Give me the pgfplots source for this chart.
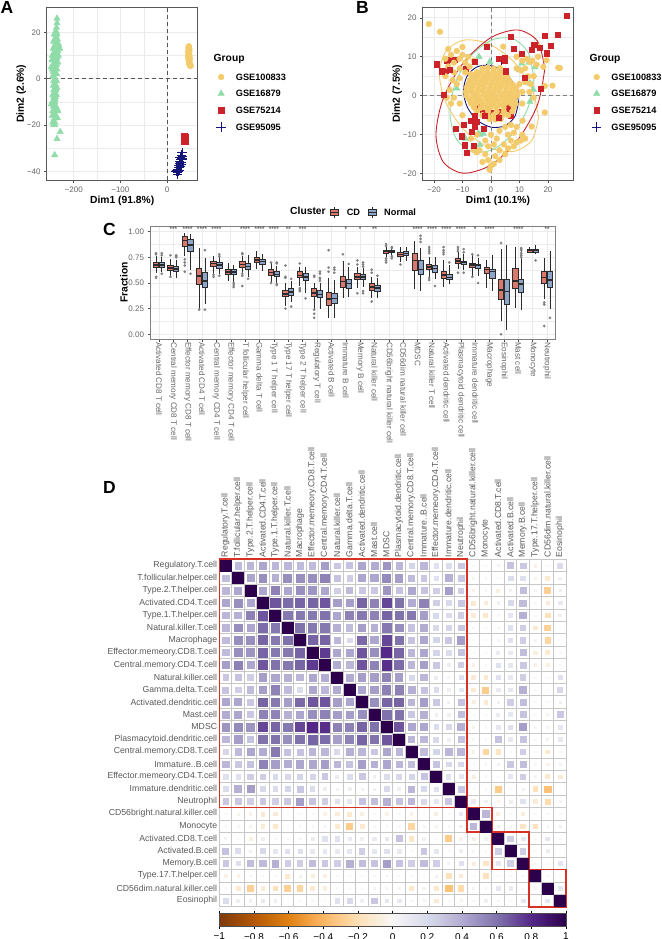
\documentclass[border=0pt]{standalone}
\usepackage{fontspec}
\setmainfont{Liberation Sans}
\usepackage{pgfplots}
\usepackage{pgfplotstable}
\usepgfplotslibrary{statistics}
\pgfplotsset{compat=1.18}
\definecolor{yel}{HTML}{F4CB6C}
\definecolor{grn}{HTML}{8FDCA9}
\definecolor{rdd}{HTML}{CC2229}
\definecolor{nvy}{HTML}{16167A}
\definecolor{gridc}{HTML}{EBEBEB}
\definecolor{tickc}{HTML}{666666}
\definecolor{dk}{HTML}{2B2B2B}
\definecolor{cdc}{HTML}{D9796C}
\definecolor{nrc}{HTML}{8DA5CB}
\definecolor{boxred}{HTML}{D93025}
\newcommand\fs[1]{\fontsize{#1}{#1}\selectfont}
\pgfplotsset{
 gg/.style={scale only axis,
  grid=both,major grid style={gridc,line width=.7pt},minor grid style={gridc,line width=.35pt},
  axis line style={draw=black!65,line width=.9pt},tick style={draw=black!70,line width=.6pt},
  tick align=outside,tick pos=left,major tick length=2.7pt,minor tick length=0pt,
  tick label style={font=\fs{8},text=tickc},
  label style={font=\bfseries\fs{10.3}},
  /pgf/number format/assume math mode=true,
  legend cell align=left,
  legend style={draw=none,fill=none,font=\bfseries\fs{9.2},/tikz/row sep=6pt,/tikz/column sep=8pt,
    nodes={text height=6.6pt,text depth=0pt,inner ysep=2pt}},
 },
 bstyle/.style={solid,draw=dk,line width=.8pt,mark=*,mark size=1.3pt,mark options={solid,draw=black!50,fill=black!50,line width=.1pt},forget plot},
 boxplot/draw direction=y,
 boxplot/box extend=.37,
 boxplot/whisker extend=0,
 boxplot/every median/.style={line width=1.5pt},
 redbox/.style={forget plot,boxred,line width=1.6pt,line join=miter,sharp plot,no marks},
}
\newcommand\bc[7]{\addplot[bstyle,fill=cdc,boxplot prepared={draw position=#1,lower whisker=#2,lower quartile=#3,median=#4,upper quartile=#5,upper whisker=#6}] coordinates {#7};}
\newcommand\bn[7]{\addplot[bstyle,fill=nrc,boxplot prepared={draw position=#1,lower whisker=#2,lower quartile=#3,median=#4,upper quartile=#5,upper whisker=#6}] coordinates {#7};}
\newcommand\st[2]{\node[font=\fs{6.5},text=dk,inner sep=0pt] at (axis cs:#1,1.025) {#2};}
\pgfplotstableread[header=false]{
1 .33 .35 .42 .35 .35 .33 .33 .45 .28 .30 .42 .40 .48 .35 .22 .35 .15 .18 .28 -.02 .01 .03 .30 .28 -.05 .01 .18
.33 1 .42 .5 .38 .5 .5 .5 .55 .3 .25 .42 .42 .52 .45 .33 .28 .15 .38 .28 -.03 -.02 .01 .18 .16 -.05 -.12 .06
.35 .42 1 .42 .55 .42 .5 .48 .42 .25 .33 .28 .28 .48 .3 .42 .3 .25 .45 .25 -.04 -.03 -.07 .05 .32 -.02 -.28 .05
.42 .5 .42 1 .68 .62 .64 .64 .68 .45 .45 .64 .55 .72 .6 .4 .55 .25 .2 .28 -.12 -.1 .06 .2 .33 -.02 -.1 .1
.35 .38 .55 .68 1 .58 .58 .58 .6 .42 .55 .58 .55 .64 .6 .58 .45 .2 .18 .25 -.1 -.13 -.02 .12 .38 -.01 -.18 .06
.35 .5 .42 .62 .58 1 .6 .58 .58 .38 .33 .45 .38 .58 .5 .3 .4 .2 .22 .28 -.02 -.01 .02 .15 .25 -.12 -.28 .01
.33 .5 .5 .64 .58 .6 1 .64 .64 .35 .18 .63 .42 .72 .6 .3 .42 .22 .28 .45 -.01 .01 .02 .15 .25 -.03 -.25 .01
.33 .5 .48 .64 .58 .58 .64 1 .75 .42 .42 .68 .5 .8 .64 .35 .42 .22 .18 .3 .01 .01 .08 .1 .32 -.08 -.12 -.02
.45 .55 .42 .68 .6 .58 .64 .75 1 .4 .35 .68 .55 .78 .62 .35 .45 .28 .07 .25 -.05 .02 .15 .12 .28 -.06 -.08 .01
.28 .3 .25 .45 .42 .38 .35 .42 .4 1 .4 .45 .45 .55 .45 .2 .35 .08 .03 .15 -.1 -.12 .15 .1 .25 .01 .01 .15
.3 .25 .33 .45 .55 .33 .18 .42 .35 .4 1 .42 .45 .55 .55 .38 .3 .18 .06 .12 -.12 -.3 .1 .12 .38 .01 -.01 .2
.42 .42 .28 .64 .58 .45 .63 .68 .68 .45 .42 1 .5 .64 .64 .35 .45 .28 .04 .3 -.07 -.12 .05 .25 .32 .01 -.01 .05
.4 .42 .28 .55 .55 .38 .42 .5 .55 .45 .45 .5 1 .6 .6 .28 .38 .06 .05 .32 -.01 .01 .08 .12 .3 .01 -.03 .28
.48 .52 .48 .72 .64 .58 .72 .8 .78 .55 .55 .64 .6 1 .68 .42 .42 .18 .2 .38 -.05 -.02 .12 .15 .45 -.02 -.03 .12
.35 .45 .3 .6 .6 .5 .6 .64 .62 .45 .55 .64 .6 .68 1 .35 .35 .2 .06 .3 -.02 -.02 .3 .1 .3 .01 -.03 .1
.22 .33 .42 .4 .58 .3 .3 .35 .35 .2 .38 .35 .28 .42 .35 1 .32 .22 .35 .35 -.05 -.25 -.15 .01 .25 .01 -.12 .02
.35 .28 .3 .55 .45 .4 .42 .42 .45 .35 .3 .45 .38 .42 .35 .32 1 .3 .2 .2 -.01 -.03 .04 .28 .32 .01 -.05 .03
.15 .15 .25 .25 .2 .2 .22 .22 .28 .08 .18 .28 .06 .18 .2 .22 .3 1 .15 .12 -.07 -.03 .01 .12 .25 -.03 -.12 -.1
.18 .38 .45 .2 .18 .22 .28 .18 .07 .03 .06 .04 .05 .2 .06 .35 .2 .15 1 .28 .01 -.02 -.3 .01 .04 -.18 -.35 .01
.28 .28 .25 .28 .25 .28 .45 .3 .25 .15 .12 .3 .32 .38 .3 .35 .2 .12 .28 1 .1 .05 -.05 .06 .15 -.1 -.22 -.03
-.02 -.03 -.04 -.12 -.1 -.02 -.01 .01 -.05 -.1 -.12 -.07 -.01 -.05 -.02 -.05 -.01 -.07 .01 .1 1 .35 -.07 -.02 -.08 .01 .02 .02
.01 -.02 -.03 -.1 -.13 -.01 .01 .01 .02 -.12 -.3 -.12 .01 -.02 -.02 -.25 -.03 -.03 -.02 .05 .35 1 .05 -.02 -.15 -.18 .02 .05
.03 .01 -.07 .06 -.02 .02 .02 .08 .15 .15 .1 .05 .08 .12 .3 -.15 .04 .01 -.3 -.05 -.07 .05 1 .25 .12 .01 .12 .02
.3 .18 .05 .2 .12 .15 .15 .1 .12 .1 .12 .25 .12 .15 .1 .01 .28 .12 .01 .06 -.02 -.02 .25 1 .25 .01 .08 .01
.28 .16 .32 .33 .38 .25 .25 .32 .28 .25 .38 .32 .3 .45 .3 .25 .32 .25 .04 .15 -.08 -.15 .12 .25 1 .01 .01 .12
-.05 -.05 -.02 -.02 -.01 -.12 -.03 -.08 -.06 .01 .01 .01 .01 -.02 .01 .01 .01 -.03 -.18 -.1 .01 -.18 .01 .01 .01 1 .01 .01
.01 -.12 -.28 -.1 -.18 -.28 -.25 -.12 -.08 .01 -.01 -.01 -.03 -.03 -.03 -.12 -.05 -.12 -.35 -.22 .02 .02 .12 .08 .01 .01 1 .12
.18 .06 .05 .1 .06 .01 .01 -.02 .01 .15 .2 .05 .28 .12 .1 .02 .03 -.1 .01 -.03 .02 .05 .02 .01 .12 .01 .12 1
}\corr
\begin{document}
\begin{tikzpicture}[x=1pt,y=1pt]
\useasboundingbox (0,0) rectangle (661,939);
% panel letters
\node[font=\bfseries\fs{17.5},anchor=center] at (7,932) {A};
\node[font=\bfseries\fs{17.5},anchor=center] at (362.5,932) {B};
\node[font=\bfseries\fs{17.5},anchor=center] at (109.5,710) {C};
\node[font=\bfseries\fs{17.5},anchor=center] at (109.5,452) {D};
\node[font=\bfseries\fs{10.3},anchor=base west,inner sep=0pt] at (213.5,877) {Group};
\node[font=\bfseries\fs{10.3},anchor=base west,inner sep=0pt] at (589.4,877) {Group};
\node[font=\bfseries\fs{10.3},anchor=base west,inner sep=0pt] at (290,724.5) {Cluster};
% ---------- A
\begin{axis}[gg,at={(46.7pt,931.7pt)},anchor=north west,width=151,height=173,
 xmin=-258,xmax=65.8,ymin=-43.9,ymax=30.8,
 xtick={-200,-100,0},xticklabels={−200,−100,0},
 ytick={-40,-20,0,20},yticklabels={−40,−20,0,20},
 minor x tick num=1,minor y tick num=1,
 xlabel={Dim1 (91.8\%)},ylabel={Dim2 (2.6\%)},
 xlabel style={yshift=3.5pt},ylabel style={yshift=-6pt},
 legend style={at={(1.103,0.64)},anchor=north west}]
\addlegendimage{only marks,mark=*,mark size=2.9pt,yel}\addlegendentry{GSE100833}
\addlegendimage{only marks,mark=triangle*,mark size=3.7pt,grn}\addlegendentry{GSE16879}
\addlegendimage{only marks,mark=square*,mark size=2.6pt,rdd}\addlegendentry{GSE75214}
\addlegendimage{only marks,mark=+,mark size=4.7pt,nvy,line width=.6pt}\addlegendentry{GSE95095}
\addplot[forget plot,only marks,mark=triangle*,mark size=3.7pt,grn,mark options={draw=grn}] coordinates {
(-236,26)(-236,24)(-237,22)(-240,20)(-237,20)(-242,19)(-236,19)(-238,18)(-235,17)(-241,17)(-243,16)(-237,16)(-239,15)(-233,15)(-241,14)(-236,14)(-232,14)(-244,13)(-238,13)(-230,13)(-240,12)(-234,12)(-243,11)(-236,11)(-246,10)(-239,10)(-233,10)(-241,9)(-236,9)(-247,8)(-243,8)(-238,8)(-240,7)(-234,7)(-245,6)(-237,6)(-248,5)(-243,5)(-239,5)(-246,4)(-236,4)(-244,3)(-240,3)(-242,2)(-237,2)(-245,1)(-240,0)(-243,-1)(-237,-1)(-241,-2)(-244,-3)(-238,-3)(-240,-4)(-236,-4)(-243,-5)(-238,-5)(-241,-6)(-245,-7)(-237,-7)(-243,-8)(-239,-8)(-240,-9)(-246,-10)(-241,-10)(-248,-11)(-243,-11)(-244,-12)(-238,-12)(-241,-13)(-236,-13)(-245,-14)(-239,-14)(-234,-14)(-242,-15)(-246,-16)(-238,-16)(-241,-17)(-235,-17)(-243,-18)(-245,-19)(-240,-19)(-243,-20)(-241,-20)(-229,-23)(-236,-26)(-241,-33)};
\addplot[forget plot,only marks,mark=*,mark size=2.9pt,yel,mark options={draw=yel}] coordinates {
(47,14)(46,13.4)(48,13)(46,12.4)(48,12)(45.5,11.5)(47.5,11)(46,10.5)(48,10)(45,9.6)(47,9)(49,8.8)(46,8.2)(48,7.8)(47,7)(49,6.8)(48,6)(50,5.4)(51,5.6)};
\addplot[forget plot,only marks,mark=square*,mark size=2.6pt,rdd,mark options={draw=rdd}] coordinates {
(35,-25)(37,-24.8)(39,-25)(36,-26)(38,-26)(40,-26.2)(37,-27)(39,-27.2)};
\addplot[forget plot,only marks,mark=+,mark size=4.7pt,nvy,line width=.6pt] coordinates {
(32,-32)(31,-33)(33,-33.5)(28,-34)(32,-34.5)(29,-35)(33,-35)(27,-35.5)(30,-36)(27,-36.5)(30,-37)(26,-37.5)(29,-38)(24,-38.5)(27,-38.5)(23,-39)(26,-39.5)(20,-39.8)(24,-40)(22,-40.5)(19,-40.2)(22,-41.5)};
\addplot[forget plot,dk!80,line width=.8pt,dash pattern=on 4pt off 3pt] coordinates {(0,-43.9)(0,30.8)};
\addplot[forget plot,dk!80,line width=.8pt,dash pattern=on 4pt off 3pt] coordinates {(-258,0)(65.8,0)};
\end{axis}
% ---------- B
\begin{axis}[gg,at={(422.7pt,931.7pt)},anchor=north west,width=150.6,height=173,
 xmin=-23.96,xmax=28.9,ymin=-21.7,ymax=22.7,
 xtick={-20,-10,0,10,20},xticklabels={−20,−10,0,10,20},
 ytick={-20,-10,0,10,20},yticklabels={−20,−10,0,10,20},
 minor x tick num=1,minor y tick num=1,
 xlabel={Dim1 (10.1\%)},ylabel={Dim2 (7.5\%)},
 xlabel style={yshift=3.5pt},ylabel style={yshift=-6pt},
 legend style={at={(1.103,0.64)},anchor=north west}]
\addlegendimage{only marks,mark=*,mark size=2.9pt,yel}\addlegendentry{GSE100833}
\addlegendimage{only marks,mark=triangle*,mark size=3.7pt,grn}\addlegendentry{GSE16879}
\addlegendimage{only marks,mark=square*,mark size=2.6pt,rdd}\addlegendentry{GSE75214}
\addlegendimage{only marks,mark=+,mark size=4.7pt,nvy,line width=.6pt}\addlegendentry{GSE95095}
\addplot[forget plot,only marks,mark=triangle*,mark size=3.7pt,grn,mark options={draw=grn}] coordinates {
(-4.2,10)(-.4,8.7)(10.8,8.3)(10.2,6.6)(15.4,7.4)(13.3,8.5)(13.7,-1.5)(-12,1.9)(-3.9,-10)(-2.7,-9.7)(-4.4,-9.7)(-3.9,-12.6)(-5,4.9)(3.2,5.3)(13.7,3.2)(14.9,1.5)(12,4.5)(-9,-11)(-6,-13)};
\addplot[forget plot,only marks,mark=+,mark size=4.7pt,nvy,line width=.6pt] coordinates {
(4.9,.2)(6,-1.3)(-4.4,-2.8)(-.4,.2)(-.4,-5.4)(3.7,9.1)(-1.5,7)(5,-2)(-5,-3)};
\addplot[forget plot,only marks,mark=square*,mark size=2.6pt,rdd,mark options={draw=rdd}] coordinates {
(-12.6,9.3)(-15.6,9.1)(-14.2,9.2)(-4.4,-2.8)(3.2,-4.1)(6.1,-3.2)(.5,-4.5)(-3,-4)(-16,6.5)(-9,7)(-1.5,-3)(7,-5)};
\addplot[forget plot,only marks,mark=*,mark size=2.9pt,yel,mark options={draw=yel}] coordinates {
(-3,7)(-1.1,7.2)(1,6.9)(3.1,7.1)(-5,6)(-3.2,6.2)(-1.2,5.9)(.8,6.1)(2.8,5.9)(4.6,6.1)(-6.5,5)(-4.4,5.1)(-2.4,4.9)(-.4,5.2)(1.6,4.9)(3.6,5.1)(5.6,4.9)(-7.4,4)(-5.4,4.1)(-3.4,3.9)(-1.4,4.2)(.6,3.9)(2.6,4.1)(4.6,4)(6.4,3.9)(-8,3)(-6,3.1)(-4,2.9)(-2,3.2)(0,3)(2,2.9)(4,3.2)(6,3)(7.6,2.9)(-8.6,2)(-6.6,2.1)(-4.6,1.9)(-2.6,2.1)(-.6,2)(1.4,1.9)(3.4,2.2)(5.4,2)(7.4,1.9)(8.8,2.1)(-8.8,1)(-7,1.1)(-5,.9)(-3,1.2)(-1,1)(1,.9)(3,1.1)(5,1)(7,.9)(9,1.1)(-8.6,0)(-6.4,.1)(-4.4,-.1)(-2.4,.2)(-.4,0)(1.6,-.1)(3.6,.1)(5.6,0)(7.6,-.1)(9.2,.1)(-7.6,-1)(-5.6,-.9)(-3.6,-1.1)(-1.6,-.9)(.4,-1)(2.4,-1.1)(4.4,-.9)(6.4,-1)(8.2,-.9)(-7,-2)(-5,-1.9)(-3,-2.1)(-1,-1.9)(1,-2)(3,-2.1)(5,-1.9)(7,-2)(8.6,-2.1)(-6,-3)(-3.6,-3.1)(-2,-3)(0,-2.9)(2,-3.1)(4.4,-3)(8,-3)(-5,-4)(-1,-4)(2,-4.1)(4.5,-4)(7.5,-4)(-3,-5)(-1.2,-5.1)(.8,-5)(4,-5)(6,-5)(-.5,-6)(1.5,-6.1)(3.4,-6)
(-16,9.5)(-15,7.5)(-14,10.5)(-13,8.5)(-13,6)(-12,11.5)(-11,9.5)(-11,7)(-11,4.5)(-10,10.5)(-9,8.5)(-9,6)(-8,10)(-7.5,7.5)(-13.5,4)(-12,3)(-16,5)(-15,12)(-10,12.5)(-7,5.5)(-6,9)(-14.5,1.5)(-13,-.5)(-15.5,-.5)
(-4,-14)(-2,-15)(-1,-16.5)(0,-18)(1,-17.5)(1.5,-15.5)(3,-14)(3,-16.5)(5,-15)(4.5,-12.5)(6,-13.5)(7,-11.5)(8,-13)(9,-12)(10.5,-11.5)(11,-10)(2,-11)(1,-12.5)(-1,-13)(6,-10)(8,-9.5)(3,-9)(5,-8)(7,-7.5)(9,-8)(12,-11)(0,-10)(-2,-11.5)(-5,-14.5)(-3,-17)(-.5,-19)
(12,7)(13,5)(12,3.5)(14,3)(15,5)(13.5,1)(11,1)(15,-.5)(10.5,6.5)(11,9)(9,10)(12.5,9.5)(14.5,9)(16,8)(16.5,10)(10,3)(11,-2)(9,7)(-11,-2)(-10,-5)(-14,-2)(-7,-11)(-5,-10)(-6,-14)
(-21.8,18.4)(-17.9,16.4)(4.3,12.6)(23.6,7.2)(24.2,7.1)(21.6,2.6)(18.9,2.5)(18.9,-4.3)(14.3,-7.9)(11.1,-6.4)(19.5,9.1)(18.4,7.4)(16.6,12.6)(13.7,8.7)};
\addplot[forget plot,only marks,mark=square*,mark size=2.6pt,rdd,mark options={draw=rdd}] coordinates {
(26.5,20.6)(18.9,15.4)(23.3,15.6)(20.9,12.8)(19.5,10.9)(17.2,12.4)(15.2,13.2)(14.2,11.9)(10.9,10.7)(8,12)(6.8,15.1)(-1.5,12.6)(2.6,9.6)(4.9,9.8)(4.9,9.1)(-5.6,8.7)(-19.1,8.1)(-17.2,6.3)(-14.6,6.6)(-16.5,.3)(17.5,1.9)(11.7,4.7)(5.3,6.3)(-12.3,-8.5)(-9.7,-7.5)(-10.2,-10.4)(-9.2,-12.7)(-6.1,-12.9)(-8.5,-14.6)(-7,-6.4)(-5.6,-5.2)(-5,-6.7)(-2.5,-8.4)(-6.8,-9.2)(-5.6,-7.9)(2.6,-5.6)(-2.1,-5.2)};
\addplot[forget plot,smooth,yel,line width=.9pt] coordinates {(16.7,-5.53)(14.37,1.86)(8,8.74)(-.7,13.3)(-9.4,14.28)(-15.77,11.43)(-18.1,5.53)(-15.77,-1.86)(-9.4,-8.74)(-.7,-13.3)(8,-14.28)(14.37,-11.43)(16.7,-5.53)};
\addplot[forget plot,smooth,grn,line width=.9pt] coordinates {(15,4.64)(13.03,11.1)(7.65,14.65)(.3,14.3)(-7.05,10.2)(-12.43,3.4)(-14.4,-4.24)(-12.43,-10.7)(-7.05,-14.25)(.3,-13.9)(7.65,-9.8)(13.03,-3)(15,4.64)};
\addplot[forget plot,smooth,rdd,line width=.9pt] coordinates {(18.9,6.96)(16.34,14)(9.35,16.88)(-.2,14.84)(-9.75,8.41)(-16.74,-.67)(-19.3,-9.96)(-16.74,-17)(-9.75,-19.88)(-.2,-17.84)(9.35,-11.41)(16.34,-2.33)(18.9,6.96)};
\addplot[forget plot,smooth,nvy,line width=.9pt] coordinates {(9.65,-1.6)(8.36,2.55)(4.83,5.98)(0,7.77)(-4.83,7.43)(-8.36,5.07)(-9.65,1.3)(-8.36,-2.85)(-4.83,-6.28)(0,-8.07)(4.83,-7.73)(8.36,-5.37)(9.65,-1.6)};
\addplot[forget plot,dk!60,line width=.9pt,dash pattern=on 4pt off 3pt] coordinates {(0,-21.7)(0,22.7)};
\addplot[forget plot,dk!60,line width=.9pt,dash pattern=on 4pt off 3pt] coordinates {(-23.96,0)(28.9,0)};
\end{axis}
% ---------- C
\begin{axis}[gg,at={(150.3pt,712.7pt)},anchor=north west,width=405.4,height=112.7,
 xmin=.4,xmax=28.6,ymin=-.046,ymax=1.0526,
 xtick={1,...,28},
 xticklabels={Activated CD8 T cell,Central memory CD8 T cell,Effector memory CD8 T cell,Activated CD4 T cell,Central memory CD4 T cell,Effector memory CD4 T cell,T follicular helper cell,Gamma delta T cell,Type 1 T helper cell,Type 17 T helper cell,Type 2 T helper cell,Regulatory T cell,Activated B cell,Immature  B cell,Memory B cell,Natural killer cell,CD56bright natural killer cell,CD56dim natural killer cell,MDSC,Natural killer T cell,Activated dendritic cell,Plasmacytoid dendritic cell,Immature dendritic cell,Macrophage,Eosinophil,Mast cell,Monocyte,Neutrophil},
 x tick label style={rotate=-90,anchor=west,font=\fs{8.1},text=tickc,inner xsep=.3pt},
 ytick={0,.25,.5,.75,1},yticklabels={0.00,0.25,0.50,0.75,1.00},minor y tick num=1,
 ylabel={Fraction},ylabel style={yshift=-6pt},
 axis line style={draw=black!50,line width=.9pt},
 legend columns=2,
 legend style={at={(.4355,1.051)},anchor=south west,/tikz/column sep=5.5pt,/tikz/row sep=0pt},
]
\addlegendimage{legend image code/.code={\draw[dk,line width=.8pt] (4pt,-5.5pt)--(4pt,5.5pt);\draw[fill=cdc,draw=dk,line width=.8pt] (0pt,-3.2pt) rectangle (8pt,3.2pt);\draw[dk,line width=1.2pt] (0pt,0pt)--(8pt,0pt);}}\addlegendentry{CD}
\addlegendimage{legend image code/.code={\draw[dk,line width=.8pt] (4pt,-5.5pt)--(4pt,5.5pt);\draw[fill=nrc,draw=dk,line width=.8pt] (0pt,-3.2pt) rectangle (8pt,3.2pt);\draw[dk,line width=1.2pt] (0pt,0pt)--(8pt,0pt);}}\addlegendentry{Normal}
\bc{.8}{.60}{.65}{.675}{.698}{.76}{(0,.79)(0,.78)(0,.56)(0,.55)}
\bn{1.2}{.61}{.65}{.675}{.70}{.75}{(0,.79)(0,.77)(0,.59)}
\bc{1.8}{.57}{.62}{.645}{.676}{.73}{(0,.77)(0,.56)}
\bn{2.2}{.55}{.61}{.635}{.66}{.72}{(0,.77)(0,.76)(0,.75)}
\bc{2.8}{.76}{.86}{.915}{.95}{.99}{(0,.73)(0,.70)(0,.67)(0,.61)}
\bn{3.2}{.63}{.805}{.87}{.925}{.98}{(0,.59)}
\bc{3.8}{.25}{.487}{.57}{.643}{.84}{(0,.24)}
\bn{4.2}{.295}{.455}{.52}{.60}{.74}{(0,.82)(0,.24)}
\bc{4.8}{.59}{.66}{.69}{.71}{.76}{(0,.58)(0,.56)}
\bn{5.2}{.59}{.645}{.675}{.70}{.75}{(0,.78)(0,.76)(0,.57)}
\bc{5.8}{.52}{.58}{.605}{.635}{.69}{}
\bn{6.2}{.51}{.58}{.605}{.63}{.68}{(0,.50)(0,.48)(0,.46)}
\bc{6.8}{.60}{.65}{.68}{.71}{.76}{(0,.79)(0,.78)(0,.59)(0,.57)(0,.47)}
\bn{7.2}{.56}{.63}{.66}{.69}{.77}{(0,.54)}
\bc{7.8}{.64}{.70}{.725}{.75}{.81}{}
\bn{8.2}{.62}{.68}{.71}{.73}{.78}{}
\bc{8.8}{.51}{.57}{.60}{.63}{.69}{(0,.70)(0,.50)}
\bn{9.2}{.50}{.56}{.585}{.61}{.67}{(0,.70)(0,.69)(0,.49)(0,.48)}
\bc{9.8}{.28}{.365}{.395}{.425}{.50}{(0,.67)(0,.56)(0,.55)(0,.25)}
\bn{10.2}{.31}{.375}{.41}{.445}{.52}{(0,.54)(0,.27)}
\bc{10.8}{.47}{.55}{.575}{.61}{.66}{(0,.69)(0,.45)(0,.44)(0,.43)(0,.42)}
\bn{11.2}{.40}{.53}{.56}{.59}{.66}{(0,.35)}
\bc{11.8}{.25}{.365}{.40}{.445}{.50}{(0,.57)(0,.56)(0,.24)(0,.20)(0,.16)}
\bn{12.2}{.25}{.36}{.39}{.425}{.50}{(0,.61)(0,.59)(0,.55)(0,.54)(0,.52)}
\bc{12.8}{.16}{.285}{.345}{.41}{.55}{(0,.82)(0,.65)(0,.61)}
\bn{13.2}{.16}{.30}{.35}{.40}{.53}{(0,.65)(0,.63)(0,.60)}
\bc{13.8}{.35}{.455}{.515}{.565}{.715}{(0,.78)}
\bn{14.2}{.36}{.45}{.495}{.535}{.66}{(0,.685)}
\bc{14.8}{.45}{.535}{.56}{.59}{.66}{(0,.72)(0,.68)(0,.40)}
\bn{15.2}{.46}{.535}{.56}{.58}{.65}{(0,.70)(0,.68)(0,.66)(0,.42)(0,.40)}
\bc{15.8}{.35}{.425}{.46}{.50}{.56}{(0,.63)(0,.60)(0,.32)}
\bn{16.2}{.35}{.42}{.45}{.48}{.55}{(0,.57)}
\bc{16.8}{.75}{.79}{.805}{.82}{.87}{(0,.88)(0,.86)(0,.74)(0,.72)(0,.70)}
\bn{17.2}{.76}{.80}{.805}{.82}{.86}{(0,.85)(0,.84)(0,.76)(0,.74)}
\bc{17.8}{.70}{.76}{.78}{.80}{.85}{(0,.68)}
\bn{18.2}{.71}{.765}{.785}{.805}{.85}{}
\bc{18.8}{.44}{.62}{.72}{.79}{.91}{}
\bn{19.2}{.42}{.58}{.63}{.72}{.84}{(0,.96)(0,.93)(0,.90)}
\bc{19.8}{.52}{.63}{.655}{.68}{.75}{(0,.85)(0,.83)(0,.81)(0,.79)(0,.55)(0,.53)}
\bn{20.2}{.54}{.60}{.64}{.67}{.75}{(0,.47)}
\bc{20.8}{.46}{.545}{.58}{.61}{.72}{(0,.85)(0,.82)(0,.80)(0,.78)}
\bn{21.2}{.49}{.535}{.555}{.585}{.68}{(0,.70)}
\bc{21.8}{.64}{.69}{.715}{.735}{.80}{(0,.85)(0,.83)(0,.81)(0,.60)}
\bn{22.2}{.63}{.68}{.70}{.715}{.78}{(0,.83)(0,.80)(0,.60)}
\bc{22.8}{.57}{.65}{.675}{.69}{.77}{(0,.78)(0,.56)}
\bn{23.2}{.57}{.645}{.67}{.685}{.74}{(0,.77)(0,.50)}
\bc{23.8}{.45}{.59}{.63}{.655}{.72}{}
\bn{24.2}{.42}{.545}{.61}{.635}{.77}{}
\bc{24.8}{.125}{.34}{.43}{.535}{.83}{(0,.89)(0,.0)}
\bn{25.2}{.045}{.29}{.415}{.535}{.87}{}
\bc{25.8}{.26}{.45}{.52}{.64}{.85}{}
\bn{26.2}{.235}{.41}{.49}{.535}{.85}{(0,.84)(0,.83)(0,.82)(0,.79)(0,.77)(0,.75)}
\bc{26.8}{.79}{.80}{.815}{.825}{.85}{}
\bn{27.2}{.78}{.80}{.815}{.825}{.87}{(0,.72)}
\bc{27.8}{.34}{.50}{.555}{.61}{.74}{(0,.31)(0,.29)(0,.08)}
\bn{28.2}{.25}{.46}{.53}{.61}{.81}{(0,.16)}
\st{2}{***}\st{3}{****}\st{4}{****}\st{5}{****}\st{7}{****}\st{8}{****}\st{9}{****}\st{10}{**}\st{11}{***}\st{14}{*}\st{15}{*}\st{16}{**}\st{19}{****}\st{20}{****}\st{21}{****}\st{22}{****}\st{23}{*}\st{24}{****}\st{26}{****}\st{28}{**}
\end{axis}
% ---------- D
\begin{axis}[scale only axis,at={(219.3pt,379.7pt)},anchor=north west,width=346.7,height=347.4,
 xmin=.5,xmax=28.5,ymin=.5,ymax=28.5,y dir=reverse,clip=false,
 axis line style={draw=none},
 major tick length=0pt,minor tick length=0pt,
 xtick={1,...,28},ytick={1,...,28},
 minor xtick={.5,1.5,...,28.5},minor ytick={.5,1.5,...,28.5},
 xminorgrids=true,yminorgrids=true,
 minor grid style={draw=black!22,line width=.6pt},
 axis x line*=top,axis y line*=left,
 xticklabels={Regulatory.T.cell,T.follicular.helper.cell,Type.2.T.helper.cell,Activated.CD4.T.cell,Type.1.T.helper.cell,Natural.killer.T.cell,Macrophage,Effector.memeory.CD8.T.cell,Central.memory.CD4.T.cell,Natural.killer.cell,Gamma.delta.T.cell,Activated.dendritic.cell,Mast.cell,MDSC,Plasmacytoid.dendritic.cell,Central.memory.CD8.T.cell,Immature..B.cell,Effector.memeory.CD4.T.cell,Immature.dendritic.cell,Neutrophil,CD56bright.natural.killer.cell,Monocyte,Activated.CD8.T.cell,Activated.B.cell,Memory.B.cell,Type.17.T.helper.cell,CD56dim.natural.killer.cell,Eosinophil},
 yticklabels={Regulatory.T.cell,T.follicular.helper.cell,Type.2.T.helper.cell,Activated.CD4.T.cell,Type.1.T.helper.cell,Natural.killer.T.cell,Macrophage,Effector.memeory.CD8.T.cell,Central.memory.CD4.T.cell,Natural.killer.cell,Gamma.delta.T.cell,Activated.dendritic.cell,Mast.cell,MDSC,Plasmacytoid.dendritic.cell,Central.memory.CD8.T.cell,Immature..B.cell,Effector.memeory.CD4.T.cell,Immature.dendritic.cell,Neutrophil,CD56bright.natural.killer.cell,Monocyte,Activated.CD8.T.cell,Activated.B.cell,Memory.B.cell,Type.17.T.helper.cell,CD56dim.natural.killer.cell,Eosinophil},
 x tick label style={rotate=90,anchor=west,font=\fs{8.7},text=black!65,inner xsep=2pt},
 y tick label style={anchor=east,font=\fs{8.7},text=black!65,inner xsep=2pt},
 colormap={puor}{rgb255(0)=(127,59,8) rgb255(1)=(179,88,6) rgb255(2)=(224,130,20) rgb255(3)=(253,184,99) rgb255(4)=(254,224,182) rgb255(5)=(247,247,247) rgb255(6)=(216,218,235) rgb255(7)=(178,171,210) rgb255(8)=(128,115,172) rgb255(9)=(84,39,136) rgb255(10)=(45,0,75)},
 point meta min=-1,point meta max=1,
 colorbar horizontal,
 colorbar style={at={(0,-.019)},anchor=north west,width=346.7,height=13.4,scale only axis,
  xtick={-1,-.8,-.6,-.4,-.2,0,.2,.4,.6,.8,1},
  xticklabels={−1,−0.8,−0.6,−0.4,−0.2,0,0.2,0.4,0.6,0.8,1},
  /pgf/number format/assume math mode=true,
  x tick label style={font=\fs{10},text=black,inner ysep=1pt,yshift=-2.5pt},
  major tick length=2.7pt,tick style={draw=black,line width=.6pt},tick align=outside,
  ytick=\empty,axis line style={draw=black!70,line width=.6pt}},
]
\pgfplotsinvokeforeach{0,...,27}{
 \addplot[forget plot,scatter,only marks,mark=square*,
  mark options={line width=.1pt},
  scatter/use mapped color={draw=mapped color,fill=mapped color},
  point meta=explicit,
  scatter/@pre marker code/.append code={\pgfkeys{/pgf/fpu=false}\pgfmathsetmacro\mm{5.5*sqrt(abs(\pgfplotspointmetatransformed/500-1))}\tikzset{mark size=\mm pt}}]
  table[x expr=#1+1,y expr=\coordindex+1,meta index=#1]{\corr};
}
\addplot[redbox] coordinates {(.5,.5)(20.5,.5)(20.5,20.5)(.5,20.5)(.5,.5)(20.5,.5)};
\addplot[redbox] coordinates {(20.5,20.5)(22.5,20.5)(22.5,22.5)(20.5,22.5)(20.5,20.5)(22.5,20.5)};
\addplot[redbox] coordinates {(22.5,22.5)(25.5,22.5)(25.5,25.5)(22.5,25.5)(22.5,22.5)(25.5,22.5)};
\addplot[redbox] coordinates {(25.5,25.5)(28.5,25.5)(28.5,28.5)(25.5,28.5)(25.5,25.5)(28.5,25.5)};
\end{axis}
\end{tikzpicture}
\end{document}
